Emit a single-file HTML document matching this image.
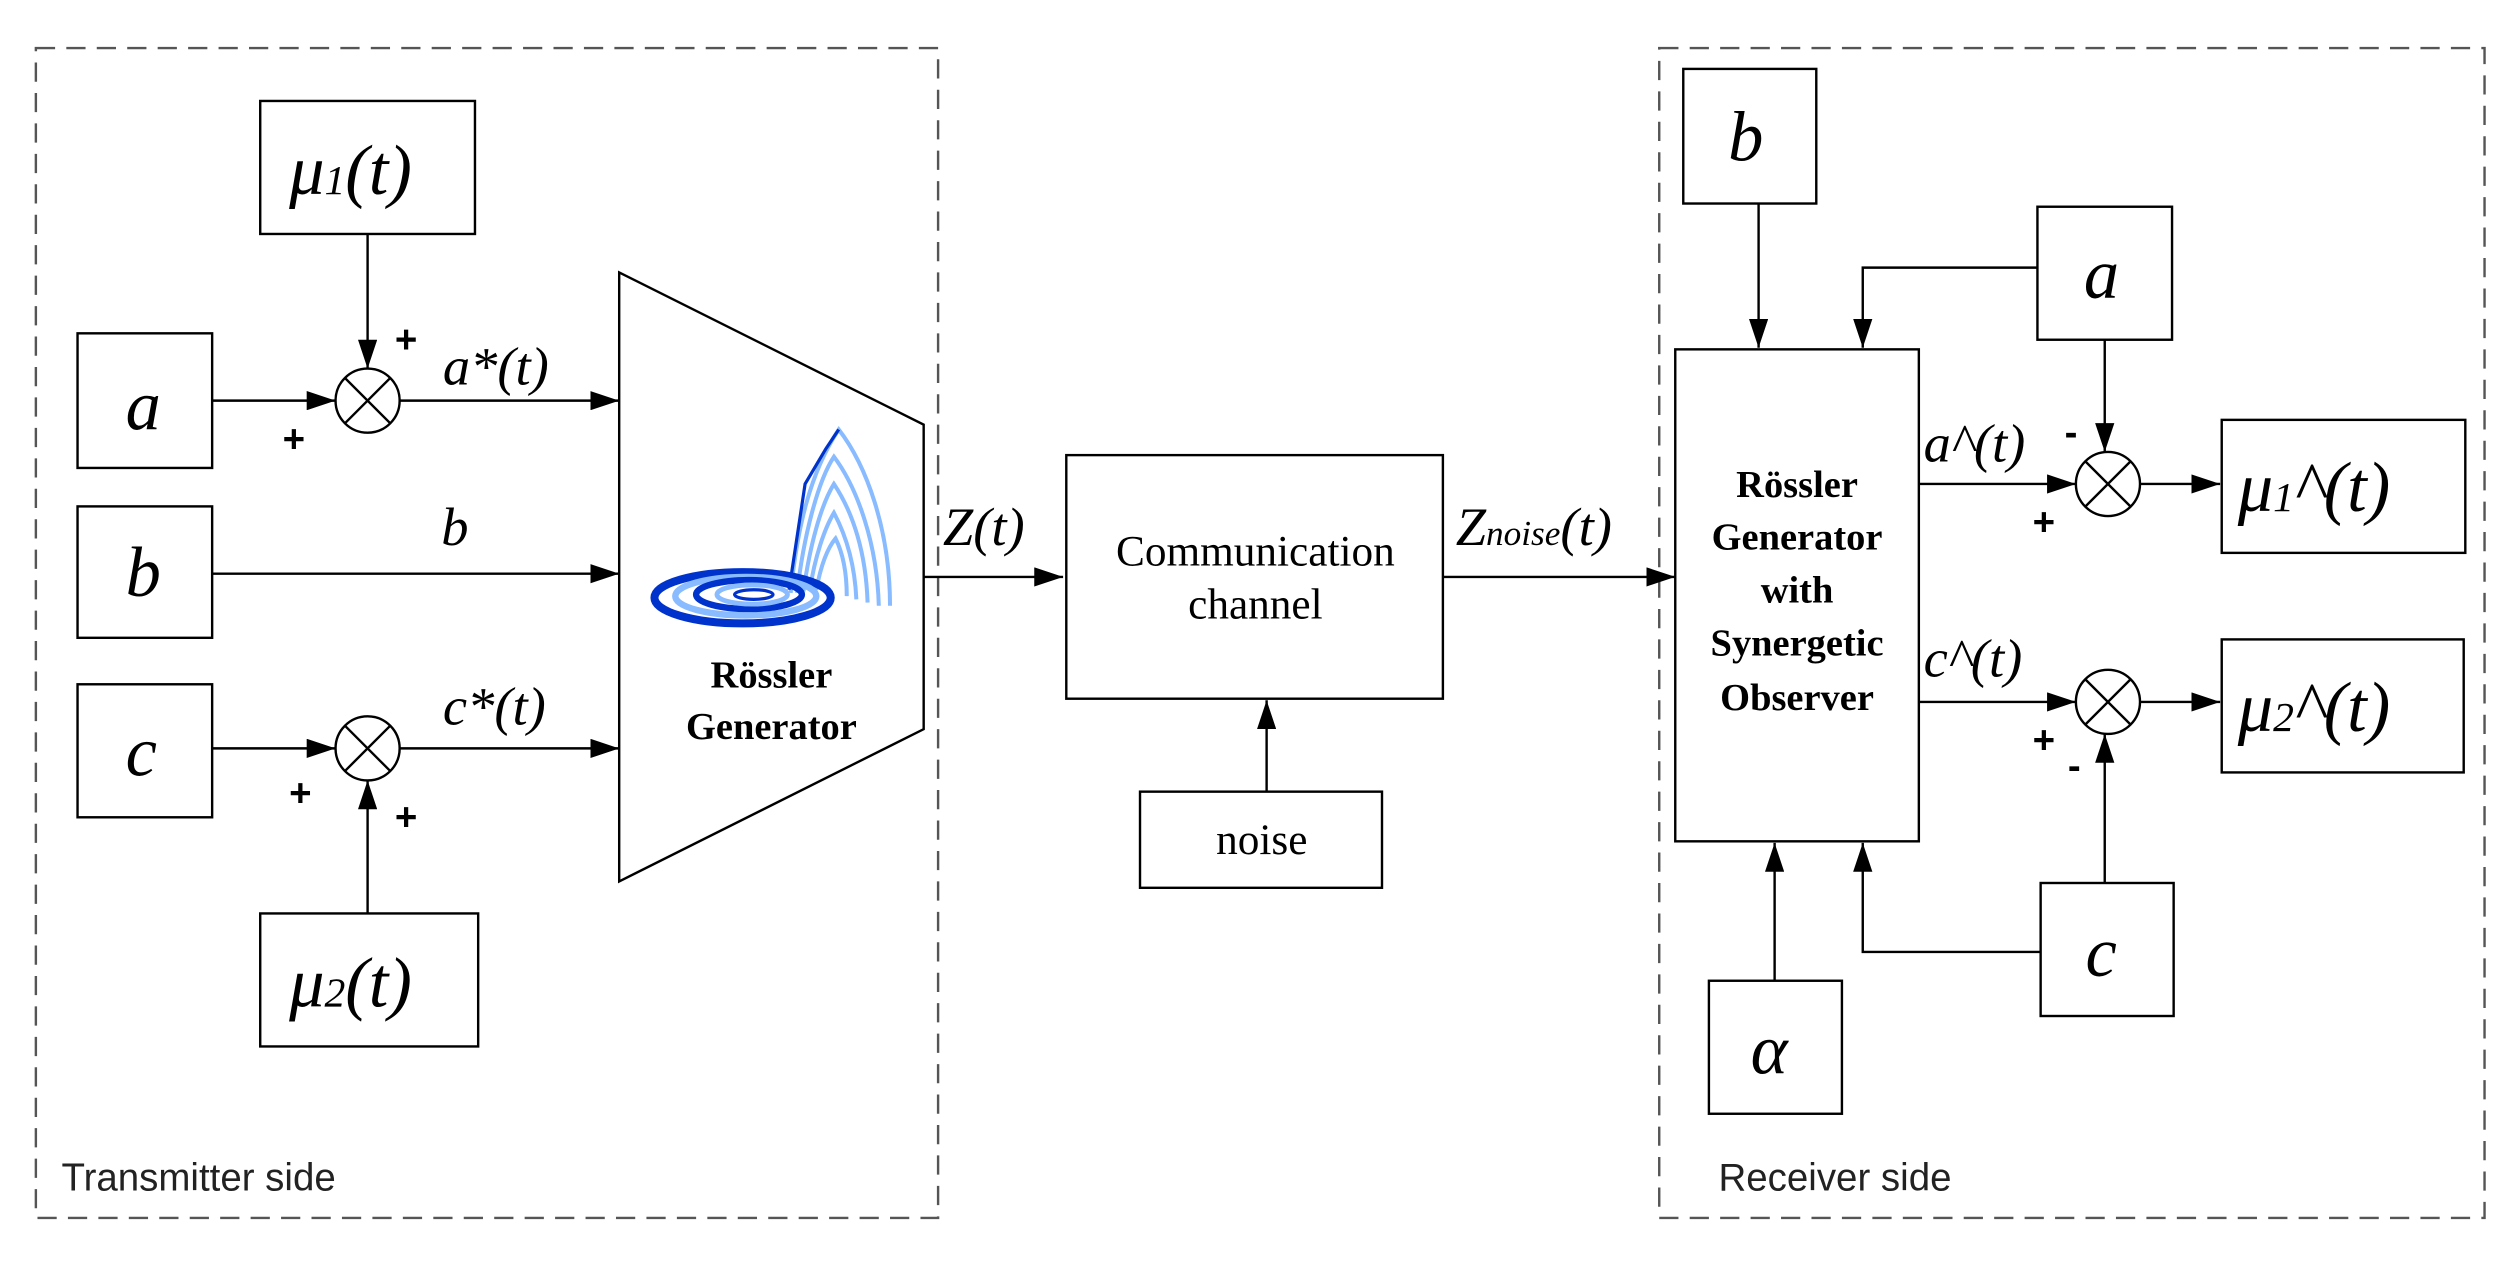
<!DOCTYPE html>
<html><head><meta charset="utf-8"><style>
html,body{margin:0;padding:0;background:#fff}
svg{display:block}
.m{font-family:"Liberation Serif",serif;font-style:italic}
.s{font-family:"Liberation Serif",serif}
.g{font-family:"Liberation Sans",sans-serif}
</style></head><body>
<svg width="2514" height="1266" viewBox="0 0 1568 790" xmlns="http://www.w3.org/2000/svg">
<defs><marker id="ar" markerWidth="18" markerHeight="12" refX="18" refY="6" orient="auto" markerUnits="userSpaceOnUse"><path d="M0,0 L18,6 L0,12 z" fill="#000"/></marker></defs>
<g fill="none" stroke="#555" stroke-width="1.5" stroke-dasharray="12,7">
<rect x="22" y="30" width="563" height="730"/>
<rect x="1035" y="30" width="515" height="730"/>
</g>
<text x="38" y="743" class="g" font-size="24" fill="#222">Transmitter side</text>
<text x="1072" y="743" class="g" font-size="24" fill="#222">Receiver side</text>
<g fill="#fff" stroke="#000" stroke-width="1.5">
<rect x="162" y="63" width="134" height="83"/>
<rect x="48" y="208" width="84" height="84"/>
<rect x="48" y="316" width="84" height="82"/>
<rect x="48" y="427" width="84" height="83"/>
<rect x="162" y="570" width="136" height="83"/>
<polygon points="386,170 576,265 576,455 386,550"/>
<rect x="665" y="284" width="235" height="152"/>
<rect x="711" y="494" width="151" height="60"/>
<rect x="1045" y="218" width="152" height="307"/>
<rect x="1050" y="43" width="83" height="84"/>
<rect x="1271" y="129" width="84" height="83"/>
<rect x="1386" y="262" width="152" height="83"/>
<rect x="1386" y="399" width="151" height="83"/>
<rect x="1273" y="551" width="83" height="83"/>
<rect x="1066" y="612" width="83" height="83"/>
</g>
<g stroke="#000" stroke-width="1.5" fill="none" marker-end="url(#ar)">
<line x1="229" y1="146" x2="229" y2="230"/>
<line x1="132" y1="250" x2="209" y2="250"/>
<line x1="249" y1="250" x2="386" y2="250"/>
<line x1="132" y1="358" x2="386" y2="358"/>
<line x1="132" y1="467" x2="209" y2="467"/>
<line x1="249" y1="467" x2="386" y2="467"/>
<line x1="229" y1="570" x2="229" y2="487"/>
<line x1="576" y1="360" x2="663" y2="360"/>
<line x1="790" y1="494" x2="790" y2="437"/>
<line x1="900" y1="360" x2="1045" y2="360"/>
<line x1="1097" y1="127" x2="1097" y2="217"/>
<polyline points="1271,167 1162,167 1162,217"/>
<line x1="1313" y1="212" x2="1313" y2="282"/>
<line x1="1197" y1="302" x2="1295" y2="302"/>
<line x1="1335" y1="302" x2="1385" y2="302"/>
<line x1="1197" y1="438" x2="1295" y2="438"/>
<line x1="1335" y1="438" x2="1385" y2="438"/>
<line x1="1313" y1="551" x2="1313" y2="458"/>
<polyline points="1273,594 1162,594 1162,526"/>
<line x1="1107" y1="612" x2="1107" y2="526"/>
</g>
<g stroke="#000" stroke-width="1.5" fill="#fff">
<circle cx="229" cy="250" r="20"/><circle cx="229" cy="467" r="20"/>
<circle cx="1315" cy="302" r="20"/><circle cx="1315" cy="438" r="20"/>
</g>
<g stroke="#000" stroke-width="1.5">
<path d="M215,236 L243,264 M243,236 L215,264"/>
<path d="M215,453 L243,481 M243,453 L215,481"/>
<path d="M1301,288 L1329,316 M1329,288 L1301,316"/>
<path d="M1301,424 L1329,452 M1329,424 L1301,452"/>
</g>
<!-- attractor -->
<g fill="none">
<g stroke="#88bbff" stroke-width="2.5">
<path d="M493,370 C497,330 505,295 523,268 C540,290 555,330 555,378"/>
<path d="M497,370 C501,335 510,300 520,285 C535,305 547,340 548,378"/>
<path d="M501,369 C505,340 512,315 520,302 C532,320 540,345 541,376"/>
<path d="M505,368 C508,348 514,330 520,320 C528,335 533,352 534,374"/>
<path d="M509,368 C512,352 516,342 521,336 C526,346 528,358 528,372"/>
</g>
<path d="M492,368 L502,302 L515,280 L523,268" stroke="#0033cc" stroke-width="2"/>
<ellipse cx="463" cy="373" rx="55" ry="16" stroke="#0033cc" stroke-width="5"/>
<ellipse cx="465" cy="372" rx="44" ry="12" stroke="#88bbff" stroke-width="4"/>
<ellipse cx="467" cy="371" rx="33" ry="9" stroke="#0033cc" stroke-width="4"/>
<ellipse cx="469" cy="371" rx="22" ry="6" stroke="#88bbff" stroke-width="3"/>
<ellipse cx="470" cy="371" rx="12" ry="3" stroke="#0033cc" stroke-width="2"/>
</g>
<g class="m" font-size="44" fill="#000">
<text x="180" y="121">μ<tspan font-size="26">1</tspan>(t)</text>
<text x="78" y="268">a</text>
<text x="78" y="372">b</text>
<text x="78" y="484">c</text>
<text x="180" y="628">μ<tspan font-size="26">2</tspan>(t)</text>
<text x="1078" y="100">b</text>
<text x="1300" y="186">a</text>
<text x="1301" y="609">c</text>
<text x="1092" y="670">α</text>
<text x="1396" y="319">μ<tspan font-size="26">1</tspan>^(t)</text>
<text x="1396" y="456">μ<tspan font-size="26">2</tspan>^(t)</text>
</g>
<g class="m" font-size="34" fill="#000">
<text x="276" y="240">a*(t)</text>
<text x="275" y="340">b</text>
<text x="276" y="452">c*(t)</text>
<text x="588" y="340">Z(t)</text>
<text x="908" y="340">Z<tspan font-size="22">noise</tspan>(t)</text>
<text x="1200" y="288">a^(t)</text>
<text x="1200" y="422">c^(t)</text>
</g>
<g class="g" font-size="24" font-weight="bold" fill="#000">
<text x="246" y="220">+</text><text x="176" y="282">+</text>
<text x="180" y="503">+</text><text x="246" y="518">+</text>
<text x="1288" y="278">-</text><text x="1268" y="334">+</text>
<text x="1268" y="470">+</text><text x="1290" y="486">-</text>
</g>
<g class="s" font-size="24" font-weight="bold" fill="#000" text-anchor="middle">
<text x="481" y="429">Rössler</text><text x="481" y="461">Generator</text>
<text x="1121" y="310">Rössler</text><text x="1121" y="343">Generator</text>
<text x="1121" y="376">with</text><text x="1121" y="409">Synergetic</text>
<text x="1121" y="443">Observer</text>
</g>
<g class="s" font-size="27" fill="#000" text-anchor="middle">
<text x="783" y="353">Communication</text><text x="783" y="386">channel</text>
<text x="787" y="533">noise</text>
</g>
</svg>
</body></html>
